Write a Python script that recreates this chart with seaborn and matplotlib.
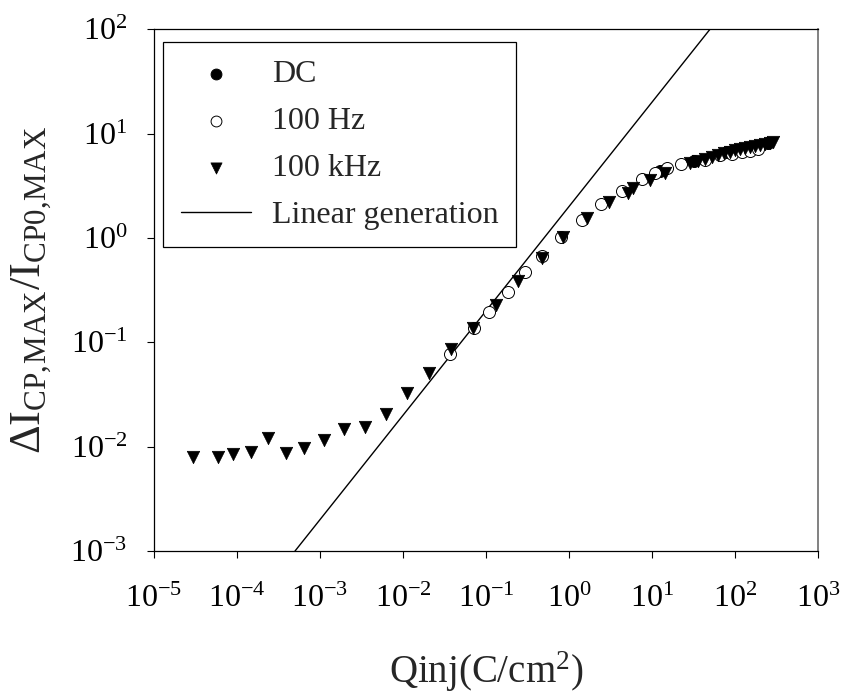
import numpy as np
import pandas as pd
import matplotlib
matplotlib.use("Agg")
import matplotlib.pyplot as plt
import seaborn as sns

# DC (mostly hidden under the other series)
q_dc = [12.6, 31.6, 79, 158, 251]
r_dc = [4.4, 5.5, 6.6, 7.4, 8.1]

# 100 Hz
q_100hz = [0.037, 0.072, 0.11, 0.186, 0.295, 0.468, 0.79, 1.45, 2.45, 4.3,
           7.6, 11, 15.1, 22.4, 43.6, 66, 91, 120, 151, 190]
r_100hz = [0.078, 0.138, 0.195, 0.30, 0.468, 0.676, 1.02, 1.48, 2.09, 2.82,
           3.63, 4.17, 4.68, 5.13, 5.6, 6.2, 6.3, 6.6, 6.8, 7.1]

# 100 kHz
q_100khz = [2.95e-5, 5.9e-5, 8.9e-5, 1.48e-4, 2.34e-4, 3.9e-4, 6.5e-4, 1.12e-3,
            1.95e-3, 3.5e-3, 6.3e-3, 1.12e-2, 2.04e-2, 3.8e-2, 6.9e-2, 0.132,
            0.245, 0.468, 0.85, 1.66, 3.0, 5.1, 5.9, 9.5, 14.5,
            28.8, 35.5, 43.6, 52.5, 63, 74, 87, 100, 115, 132, 151, 174, 200,
            229, 263, 290]
r_100khz = [7.9e-3, 7.9e-3, 8.5e-3, 8.9e-3, 1.2e-2, 8.7e-3, 9.8e-3, 1.15e-2,
            1.48e-2, 1.55e-2, 2.04e-2, 3.3e-2, 5.1e-2, 8.7e-2, 0.138, 0.229,
            0.389, 0.646, 1.02, 1.55, 2.19, 2.69, 3.0, 3.55, 4.17,
            5.25, 5.5, 5.75, 6.0, 6.2, 6.45, 6.6, 6.9, 7.1, 7.25, 7.4, 7.6, 7.75,
            7.95, 8.1, 8.3]

# linear generation line (y = 2x)
q_lin = [5e-4, 50]
r_lin = [1e-3, 100]

sns.set_style("ticks")
plt.rcParams['font.family'] = ['Liberation Serif', 'DejaVu Serif']
plt.rcParams['mathtext.fontset'] = 'custom'
plt.rcParams['mathtext.rm'] = 'Liberation Serif'
plt.rcParams['mathtext.it'] = 'Liberation Serif:italic'
plt.rcParams['mathtext.bf'] = 'Liberation Serif:bold'
plt.rcParams['axes.unicode_minus'] = False

fig = plt.figure(figsize=(8.46, 6.94), dpi=100)
ax = fig.add_axes([0.182, 0.206, 0.785, 0.752])

sns.scatterplot(x=q_dc, y=r_dc, marker='o', s=75, color='black',
                edgecolor='black', linewidth=0.7, label='DC', ax=ax, zorder=3)
sns.scatterplot(x=q_100hz, y=r_100hz, marker='o', s=75, color='white',
                edgecolor='black', linewidth=0.7, label='100 Hz', ax=ax, zorder=4)
sns.scatterplot(x=q_100khz, y=r_100khz, marker='v', s=80, color='black',
                edgecolor='black', linewidth=0.5, label='100 kHz', ax=ax, zorder=5)
sns.lineplot(x=q_lin, y=r_lin, color='black', linewidth=1.0,
             label='Linear generation', ax=ax, zorder=2)

ax.set_xscale('log')
ax.set_yscale('log')
ax.set_xlim(1e-5, 1e3)
ax.set_ylim(1e-3, 1e2)
ax.set_xticks([10.0 ** k for k in range(-5, 4)])
ax.set_yticks([10.0 ** k for k in range(-3, 3)])
ax.minorticks_off()
ax.tick_params(axis='both', which='major', direction='out', length=5,
               width=0.8, labelsize=23, colors='black')
ax.tick_params(axis='x', pad=19)
ax.tick_params(axis='y', pad=14)

for side in ['left', 'bottom', 'top']:
    ax.spines[side].set_color('black')
    ax.spines[side].set_linewidth(0.9)
ax.spines['right'].set_color('#777777')
ax.spines['right'].set_linewidth(1.3)

ax.set_xlabel('Qinj(C/cm$^2$)', fontsize=28, labelpad=26)
ax.set_ylabel(r'$\Delta\mathrm{I}_{\mathrm{CP,\!MAX}}/\mathrm{I}_{\mathrm{CP0,\!MAX}}$',
              fontsize=32, labelpad=12)

handles, labels = ax.get_legend_handles_labels()
order = ['DC', '100 Hz', '100 kHz', 'Linear generation']
hmap = dict(zip(labels, handles))
leg = ax.legend([hmap[k] for k in order], order, loc='upper left',
                bbox_to_anchor=(0.0136, 0.975), borderaxespad=0,
                fontsize=23, frameon=True, fancybox=False, shadow=False,
                edgecolor='black', framealpha=1, handlelength=2.2,
                handletextpad=0.65, labelspacing=0.55, borderpad=0.55,
                markerscale=0.9)
leg.get_frame().set_linewidth(0.9)

fig.savefig('out.png', dpi=100)
